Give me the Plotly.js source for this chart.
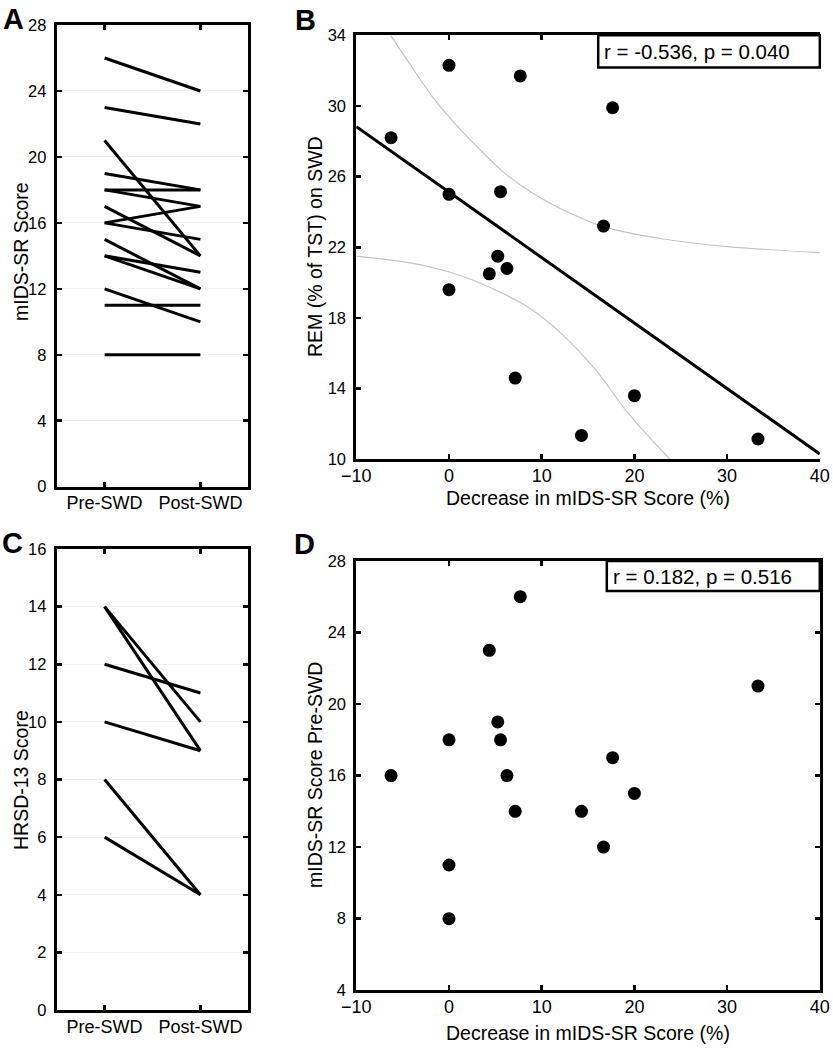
<!DOCTYPE html>
<html><head><meta charset="utf-8">
<script src="https://cdn.plot.ly/plotly-3.0.1.min.js"></script>
<style>html,body{margin:0;padding:0;background:#fff}</style>
</head><body><div id="chart" style="width:833px;height:1050px"></div>
<script>
// ---------- data ----------
const groups = ['Pre-SWD', 'Post-SWD'];
// Panel A: mIDS-SR score per subject, before and after sleep wake disruption
const midsPre  = [16, 18, 11, 8, 23, 19, 18, 16, 14, 26, 14, 12, 17, 15, 21];
const midsPost = [17, 18, 11, 8, 22, 18, 17, 15, 13, 24, 12, 10, 14, 12, 14];
// Panels B and D: percent decrease in mIDS-SR score (same subject order)
const decreasePct = [-6.25, 0, 0, 0, 4.35, 5.26, 5.56, 6.25, 7.14, 7.69, 14.29, 16.67, 17.65, 20, 33.33];
// Panel B: REM (% of TST) on SWD
const remPct = [28.2, 32.3, 25.0, 19.6, 20.5, 21.5, 25.15, 20.8, 14.6, 31.7, 11.35, 23.2, 29.9, 13.6, 11.15];
// Panel B: regression line and confidence band
const fitX = [-10, 40];
const fitY = [28.83, 10.3];
const bandUpperX = [-6.3, -4.0, -1.9, 0.3, 3.2, 6.0, 8.9, 12.0, 16.65, 22.8, 30.0, 40];
const bandUpperY = [34.0, 32.2, 30.6, 29.2, 27.6, 26.2, 25.1, 24.2, 23.17, 22.5, 22.04, 21.7];
const bandLowerX = [-10, -4.02, 0.65, 4.96, 8.55, 12.16, 15.75, 19.34, 23.84];
const bandLowerY = [21.5, 21.1, 20.5, 19.6, 18.6, 17.1, 15.1, 12.6, 10.0];
// Panel C: HRSD-13 score before and after
const hrsdPre  = [14, 14, 12, 10, 8, 6];
const hrsdPost = [10, 9, 11, 9, 4, 4];
// Text
const statB = 'r = -0.536, p = 0.040';
const statD = 'r = 0.182, p = 0.516';
const titleMids = 'mIDS-SR Score';
const titleDecrease = 'Decrease in mIDS-SR Score (%)';
const titleRem = 'REM (% of TST) on SWD';
const titleHrsd = 'HRSD-13 Score';
const titlePre = 'mIDS-SR Score Pre-SWD';

// ---------- layout helpers ----------
const W = 833, H = 1050;
const FONT = 'Arial, "Liberation Sans", sans-serif';
const px = v => v / W;
const py = v => 1 - v / H;

const traces = [];
midsPre.forEach((v, i) => traces.push({
  x: [0, 1], y: [v, midsPost[i]], xaxis: 'x', yaxis: 'y', type: 'scatter', mode: 'lines',
  line: {color: '#000', width: 3}, showlegend: false, hoverinfo: 'skip'
}));
hrsdPre.forEach((v, i) => traces.push({
  x: [0, 1], y: [v, hrsdPost[i]], xaxis: 'x3', yaxis: 'y3', type: 'scatter', mode: 'lines',
  line: {color: '#000', width: 3}, showlegend: false, hoverinfo: 'skip'
}));
traces.push({x: bandUpperX, y: bandUpperY, xaxis: 'x2', yaxis: 'y2', mode: 'lines',
  line: {color: '#c4c4c4', width: 1.2, shape: 'spline', smoothing: 1}, showlegend: false});
traces.push({x: bandLowerX, y: bandLowerY, xaxis: 'x2', yaxis: 'y2', mode: 'lines',
  line: {color: '#c4c4c4', width: 1.2, shape: 'spline', smoothing: 1}, showlegend: false});
traces.push({x: fitX, y: fitY, xaxis: 'x2', yaxis: 'y2', mode: 'lines',
  line: {color: '#000', width: 3}, showlegend: false});
traces.push({x: decreasePct, y: remPct, xaxis: 'x2', yaxis: 'y2', mode: 'markers',
  marker: {color: '#000', size: 13}, showlegend: false});
traces.push({x: decreasePct, y: midsPre, xaxis: 'x4', yaxis: 'y4', mode: 'markers',
  marker: {color: '#000', size: 13}, showlegend: false});

const xTickFont = {family: FONT, size: 18, color: '#000'};
const yTickFont = {family: FONT, size: 16.5, color: '#000'};
const titleFont = {family: FONT, size: 19.5, color: '#000'};
function ax(extra) {
  return Object.assign({
    showline: true, linecolor: '#000', linewidth: 3, mirror: 'ticks',
    ticks: 'inside', ticklen: 5, tickwidth: 2.5, tickcolor: '#000',
    showgrid: false, zeroline: false, fixedrange: true
  }, extra);
}
const xax = e => ax(Object.assign({tickfont: xTickFont, ticklabelstandoff: -2}, e));
const yax = e => ax(Object.assign({tickfont: yTickFont, ticklabelstandoff: 4}, e));

const xA = [px(56.7), px(248.3)], xB = [px(356.3), px(819.8)];
const domB = [py(459.3), py(35.3)];
// right-hand tick marks of panel B sit at their own positions (separate right axis)
const rightTicksB = [32.04, 27.88, 23.72, 19.56, 15.4, 11.24];

function label(text, x, y, angle) {
  return {text: text, xref: 'paper', yref: 'paper', x: px(x), y: py(y), xanchor: 'center', yanchor: 'middle',
    textangle: angle || 0, showarrow: false, font: titleFont};
}
function letter(text, x, y) {
  return {text: '<b>' + text + '</b>', xref: 'paper', yref: 'paper', x: px(x), y: py(y),
    xanchor: 'center', yanchor: 'middle', showarrow: false, font: {family: FONT, size: 29, color: '#000'}};
}

const layout = {
  width: W, height: H, margin: {l: 0, r: 0, t: 0, b: 0},
  paper_bgcolor: '#fff', plot_bgcolor: '#fff', font: {family: FONT, color: '#000'},
  showlegend: false,
  xaxis: xax({domain: xA, anchor: 'y', range: [-0.5, 1.5], tickvals: [0, 1], ticktext: groups}),
  yaxis: yax({domain: [py(486.7), py(25)], anchor: 'x', range: [0, 28], tick0: 0, dtick: 4,
    showgrid: true, gridcolor: '#efefef', gridwidth: 1}),
  xaxis2: xax({domain: xB, anchor: 'y2', range: [-10, 40], tick0: -10, dtick: 10}),
  yaxis2: yax({domain: domB, anchor: 'x2', range: [10, 34], tick0: 10, dtick: 4, mirror: false}),
  yaxis5: yax({domain: domB, anchor: 'x2', overlaying: 'y2', side: 'right', range: [10, 34],
    tickvals: rightTicksB, showticklabels: false, mirror: false}),
  xaxis3: xax({domain: xA, anchor: 'y3', range: [-0.5, 1.5], tickvals: [0, 1], ticktext: groups}),
  yaxis3: yax({domain: [py(1010), py(549)], anchor: 'x3', range: [0, 16], tick0: 0, dtick: 2,
    showgrid: true, gridcolor: '#efefef', gridwidth: 1}),
  xaxis4: xax({domain: xB, anchor: 'y4', range: [-10, 40], tick0: -10, dtick: 10}),
  yaxis4: yax({domain: [py(990.2), py(560.9)], anchor: 'x4', range: [4, 28], tick0: 4, dtick: 4}),
  shapes: [
    {type: 'rect', xref: 'paper', yref: 'paper', x0: px(598.2), x1: px(819.8), y0: py(67.5), y1: py(35.3),
     fillcolor: '#fff', line: {color: '#000', width: 2.5}, layer: 'above'},
    {type: 'rect', xref: 'paper', yref: 'paper', x0: px(606.8), x1: px(819.8), y0: py(591), y1: py(560.9),
     fillcolor: '#fff', line: {color: '#000', width: 2.5}, layer: 'above'}
  ],
  annotations: [
    {text: statB, xref: 'paper', yref: 'paper', x: px(602), y: py(51.4), xanchor: 'left', yanchor: 'middle',
     showarrow: false, font: {family: FONT, size: 20.5, color: '#000'}},
    {text: statD, xref: 'paper', yref: 'paper', x: px(610.5), y: py(576), xanchor: 'left', yanchor: 'middle',
     showarrow: false, font: {family: FONT, size: 20.5, color: '#000'}},
    label(titleMids, 21, 252, -90),
    label(titleRem, 315, 247, -90),
    label(titleHrsd, 21, 780, -90),
    label(titlePre, 315, 775, -90),
    label(titleDecrease, 588, 498),
    label(titleDecrease, 588, 1033),
    letter('A', 13, 18.5),
    letter('B', 305, 19.5),
    letter('C', 12, 543),
    letter('D', 304, 544)
  ]
};

Plotly.newPlot('chart', traces, layout, {staticPlot: true, displayModeBar: false});
</script>
</body></html>
